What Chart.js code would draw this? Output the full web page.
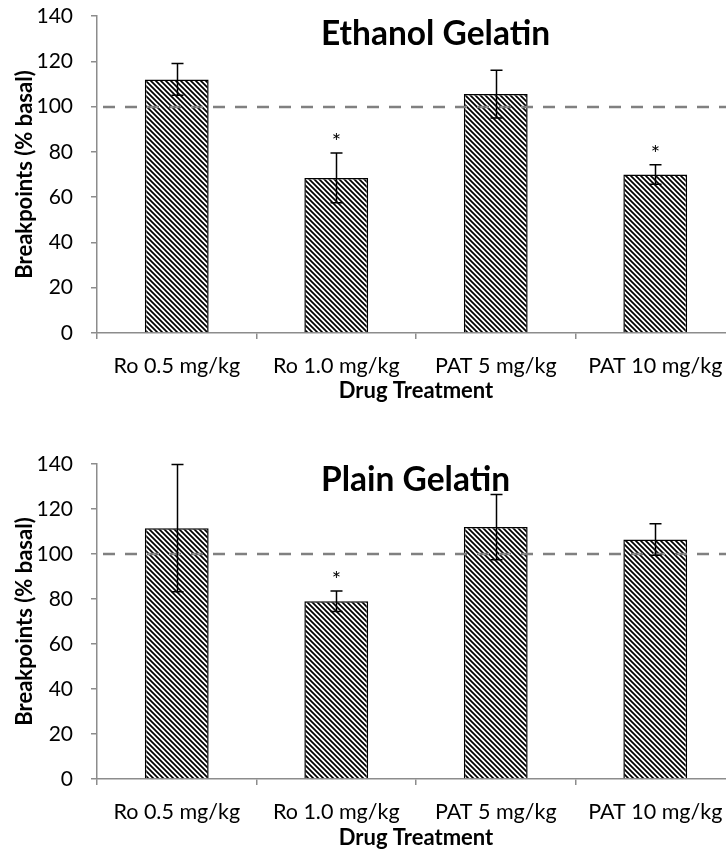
<!DOCTYPE html>
<html><head><meta charset="utf-8">
<script src="https://cdn.jsdelivr.net/npm/chart.js@4/dist/chart.umd.min.js"></script>
<style>
html,body{margin:0;padding:0;background:#fff;overflow:hidden;width:726px;height:851px;position:relative;}
#w1{position:absolute;left:0;top:0;width:740px;height:425px;}
#w2{position:absolute;left:0;top:425px;width:740px;height:426px;}
</style></head><body>
<div id="w1"><canvas id="c1" width="740" height="425"></canvas></div>
<div id="w2"><canvas id="c2" width="740" height="426"></canvas></div>
<script>
const categories = ['Ro 0.5 mg/kg', 'Ro 1.0 mg/kg', 'PAT 5 mg/kg', 'PAT 10 mg/kg'];
const yTicks = [0, 20, 40, 60, 80, 100, 120, 140];
const ethanolMeans = [112, 68.5, 105.5, 70];
const ethanolErrors = [7, 11, 10.5, 4.3];
const ethanolSig = [false, true, false, true];
const plainMeans = [111.5, 79, 112, 106.5];
const plainErrors = [28.3, 4.6, 14.5, 7];
const plainSig = [false, true, false, false];
const baselineValue = 100;

Chart.defaults.font.family = 'Lato';
Chart.defaults.color = '#000';

function hatchPattern() {
  const s = 5;
  const c = document.createElement('canvas');
  c.width = s; c.height = s;
  const x = c.getContext('2d');
  x.fillStyle = '#fff'; x.fillRect(0, 0, s, s);
  x.strokeStyle = '#000'; x.lineWidth = 1.7;
  x.beginPath();
  x.moveTo(-1, -1); x.lineTo(s + 1, s + 1);
  x.moveTo(-1, s - 1); x.lineTo(1, s + 1);
  x.moveTo(s - 1, -1); x.lineTo(s + 1, 1);
  x.stroke();
  return x.createPattern(c, 'repeat');
}

const overlay = {
  id: 'overlay',
  afterDatasetsDraw(chart, args, o) {
    const { ctx, chartArea, scales: { y } } = chart;
    ctx.save();
    const yb = Math.round(y.getPixelForValue(o.baseline));
    ctx.strokeStyle = '#808080'; ctx.lineWidth = 2.5; ctx.setLineDash([12, 10]);
    ctx.beginPath(); ctx.moveTo(chartArea.left + 6, yb); ctx.lineTo(chartArea.right, yb); ctx.stroke();
    ctx.setLineDash([]);
    const meta = chart.getDatasetMeta(0);
    ctx.strokeStyle = '#000'; ctx.lineWidth = 1.5;
    meta.data.forEach((bar, i) => {
      const m = o.means[i], e = o.errors[i];
      const xp = Math.round(bar.x) + 0.5;
      const yt = y.getPixelForValue(m + e), yl = y.getPixelForValue(m - e);
      ctx.beginPath();
      ctx.moveTo(xp, yt); ctx.lineTo(xp, yl);
      ctx.moveTo(xp - 6, yt); ctx.lineTo(xp + 6, yt);
      ctx.moveTo(xp - 6, yl); ctx.lineTo(xp + 6, yl);
      ctx.stroke();
      if (o.sig[i]) {
        ctx.fillStyle = '#000'; ctx.font = '22px Lato';
        ctx.textAlign = 'center'; ctx.textBaseline = 'alphabetic';
        ctx.fillText('*', xp, yt - 4);
      }
    });
    ctx.fillStyle = '#000'; ctx.font = 'bold 33.5px Lato';
    ctx.textAlign = 'left'; ctx.textBaseline = 'middle';
    ctx.fillText(o.title, chartArea.left + 224, o.titleY);
    ctx.restore();
  }
};

function makeChart(id, means, errors, sig, title, cfg) {
  return new Chart(document.getElementById(id), {
    type: 'bar',
    data: {
      labels: categories,
      datasets: [{
        data: means,
        backgroundColor: hatchPattern(),
        borderColor: '#000',
        borderWidth: 1.5,
        barPercentage: 0.4,
        categoryPercentage: 1.0
      }]
    },
    options: {
      responsive: false,
      animation: false,
      layout: { padding: { top: cfg.top, right: 5, left: 0, bottom: 0 } },
      plugins: {
        legend: { display: false },
        tooltip: { enabled: false },
        overlay: { means, errors, sig, baseline: baselineValue, title, titleY: cfg.titleY }
      },
      scales: {
        x: {
          grid: { offset: true, drawOnChartArea: false, drawTicks: true, tickLength: 6, color: '#8c8c8c', lineWidth: 1.5 },
          border: { color: '#8c8c8c', width: 1.5 },
          ticks: { color: '#000', font: { size: 21.5 }, padding: 14, maxRotation: 0, autoSkip: false },
          title: { display: true, text: 'Drug Treatment', color: '#000', font: { size: 22, weight: 'bold' }, padding: { top: 0, bottom: cfg.xtPad } },
          afterFit(s) { s.height = cfg.xh; s.paddingLeft = 0; s.paddingRight = 0; }
        },
        y: {
          min: 0, max: 140,
          afterBuildTicks(s) { s.ticks = yTicks.map(v => ({ value: v })); },
          grid: { drawOnChartArea: false, drawTicks: true, tickLength: 6, color: '#8c8c8c', lineWidth: 1.5 },
          border: { color: '#8c8c8c', width: 1.5 },
          ticks: { color: '#000', font: { size: 21 }, padding: 18 },
          title: { display: true, text: 'Breakpoints (% basal)', color: '#000', font: { size: 22, weight: 'bold' }, padding: { top: 12, bottom: 0 } },
          afterFit(s) { s.width = 97; s.paddingTop = 0; s.paddingBottom = 0; }
        }
      }
    },
    plugins: [overlay]
  });
}

makeChart('c1', ethanolMeans, ethanolErrors, ethanolSig, 'Ethanol Gelatin', { top: 16, xh: 92, xtPad: 21, titleY: 34 });
makeChart('c2', plainMeans, plainErrors, plainSig, 'Plain Gelatin', { top: 39, xh: 72, xtPad: 0, titleY: 55 });
</script>
</body></html>
